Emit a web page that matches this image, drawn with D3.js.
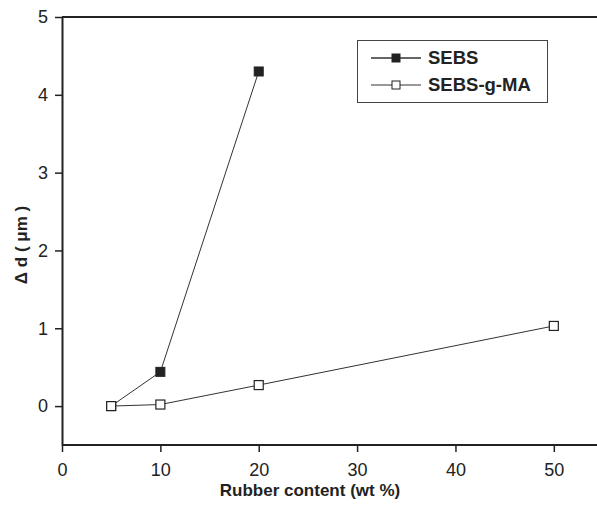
<!DOCTYPE html>
<html>
<head>
<meta charset="utf-8">
<script src="https://cdn.jsdelivr.net/npm/d3@7"></script>
<style>
  body { margin: 0; background: #fff; }
  svg { display: block; }
</style>
</head>
<body>
<div id="chart"></div>
<script>
// data
var sebsX = [5, 10, 20];
var sebsY = [0, 0.44, 4.3];
var maX = [5, 10, 20, 50];
var maY = [0, 0.02, 0.27, 1.03];
var seriesNames = ["SEBS", "SEBS-g-MA"];
var xTicks = [0, 10, 20, 30, 40, 50];
var yTicks = [0, 1, 2, 3, 4, 5];

function zip(a, b) {
  var arr = [];
  for (var i = 0; i < a.length; i++) arr.push([a[i], b[i]]);
  return arr;
}

var width = 597, height = 506;
var ink = "#222";
var fam = "'Liberation Sans', Arial, sans-serif";

var x = d3.scaleLinear().domain([0, 55]).range([62, 603]);
var y = d3.scaleLinear().domain([-0.5, 5]).range([445, 17]);

var svg = d3.select("#chart").append("svg")
    .attr("width", width)
    .attr("height", height);

// top frame line
svg.append("line")
    .attr("x1", x(0)).attr("x2", width)
    .attr("y1", y(5)).attr("y2", y(5))
    .attr("stroke", ink).attr("stroke-width", 2);

var xAxis = svg.append("g")
    .attr("transform", "translate(0," + y(-0.5) + ")")
    .call(d3.axisBottom(x).tickValues(xTicks).tickSize(7).tickSizeOuter(0).tickFormat(d3.format("d")));
var yAxis = svg.append("g")
    .attr("transform", "translate(" + x(0) + ",0)")
    .call(d3.axisLeft(y).tickValues(yTicks).tickSize(7).tickSizeOuter(0).tickFormat(d3.format("d")));

[xAxis, yAxis].forEach(function(g) {
  g.select(".domain").attr("stroke", ink).attr("stroke-width", 2);
  g.selectAll(".tick line").attr("stroke", ink).attr("stroke-width", 1.5);
  g.selectAll(".tick text")
    .attr("fill", ink)
    .style("font", "18px " + fam);
});
xAxis.select(".domain").attr("d", "M" + x(0) + ",0H" + width);
xAxis.selectAll(".tick text").attr("y", 13).attr("dy", "1em");
yAxis.selectAll(".tick text").attr("x", -14);

// axis labels
svg.append("text")
    .attr("x", 310).attr("y", 496)
    .attr("text-anchor", "middle")
    .style("font", "bold 17px " + fam)
    .attr("fill", ink)
    .text("Rubber content (wt %)");

svg.append("text")
    .attr("transform", "translate(27,245)rotate(-90)")
    .attr("text-anchor", "middle")
    .style("font", "bold 17px " + fam)
    .attr("fill", ink)
    .text("Δ d ( μm )");

var line = d3.line()
    .x(function(d) { return x(d[0]); })
    .y(function(d) { return y(d[1]); });

var sebs = zip(sebsX, sebsY);
var ma = zip(maX, maY);

svg.append("path").datum(sebs)
    .attr("d", line).attr("fill", "none")
    .attr("stroke", "#333").attr("stroke-width", 1);
svg.append("path").datum(ma)
    .attr("d", line).attr("fill", "none")
    .attr("stroke", "#333").attr("stroke-width", 1);

var ms = 9;
svg.selectAll(".sebs").data(sebs).enter().append("rect")
    .attr("class", "sebs")
    .attr("x", function(d) { return x(d[0]) - ms / 2; })
    .attr("y", function(d) { return y(d[1]) - ms / 2; })
    .attr("width", ms).attr("height", ms)
    .attr("fill", ink).attr("stroke", ink);
svg.selectAll(".ma").data(ma).enter().append("rect")
    .attr("class", "ma")
    .attr("x", function(d) { return x(d[0]) - ms / 2; })
    .attr("y", function(d) { return y(d[1]) - ms / 2; })
    .attr("width", ms).attr("height", ms)
    .attr("fill", "#fff").attr("stroke", ink).attr("stroke-width", 1.2);

// legend
var lg = svg.append("g");
lg.append("rect")
    .attr("x", 357.5).attr("y", 40.5)
    .attr("width", 190).attr("height", 62)
    .attr("fill", "#fff").attr("stroke", "#444").attr("stroke-width", 1);

seriesNames.forEach(function(name, i) {
  var ly = 58 + i * 27;
  lg.append("line")
    .attr("x1", 371).attr("x2", 421)
    .attr("y1", ly).attr("y2", ly)
    .attr("stroke", "#333").attr("stroke-width", i == 0 ? 1.5 : 1);
  lg.append("rect")
    .attr("x", 396 - 4).attr("y", ly - 4)
    .attr("width", 8).attr("height", 8)
    .attr("fill", i == 0 ? ink : "#fff")
    .attr("stroke", ink);
  lg.append("text")
    .attr("x", 428).attr("y", ly + 6)
    .style("font", "bold 18.5px " + fam)
    .attr("fill", ink)
    .text(name);
});
</script>
</body>
</html>
